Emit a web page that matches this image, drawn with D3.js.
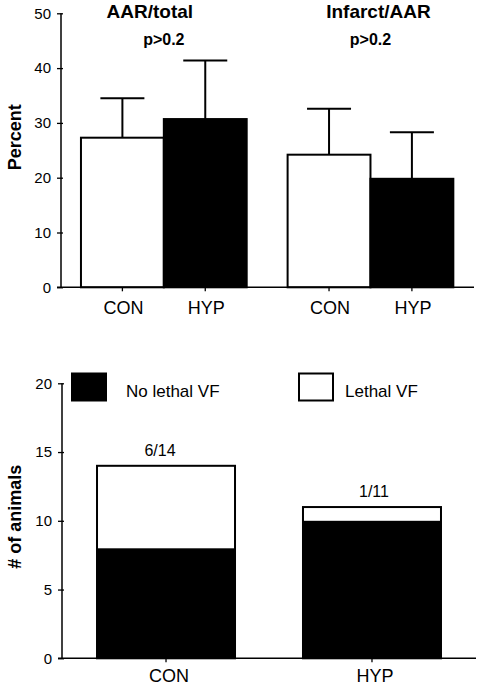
<!DOCTYPE html>
<html><head><meta charset="utf-8">
<script src="https://cdn.jsdelivr.net/npm/d3@7"></script>
<style>
html,body{margin:0;padding:0;background:#fff;}
text{font-family:Arial,"Liberation Sans",Helvetica,sans-serif;fill:#000;}
</style></head>
<body>
<svg id="chart" width="477" height="687"></svg>
<script>
// ---- Top panel data ----
const panels = ["AAR/total", "Infarct/AAR"];
const groups = ["CON", "HYP"];
const meanValues = { "AAR/total": [27.3, 30.7], "Infarct/AAR": [24.2, 19.8] };
const errValues = { "AAR/total": [34.5, 41.4], "Infarct/AAR": [32.6, 28.3] };
const pLabels = ["p>0.2", "p>0.2"];
const topTicks = [0, 10, 20, 30, 40, 50];
const groupFills = ["#fff", "#000"];

// ---- Bottom panel data ----
const vfGroups = ["CON", "HYP"];
const noLethal = [8, 10];
const lethal = [6, 1];
const vfLabels = ["6/14", "1/11"];
const bottomTicks = [0, 5, 10, 15, 20];
const legendKeys = ["No lethal VF", "Lethal VF"];
const legendFills = ["#000", "#fff"];

const svg = d3.select("#chart");

// ========== TOP ==========
const T = { left: 61, right: 474, top: 13.3, bottom: 287.3 };
const yT = d3.scaleLinear().domain([0, 50]).range([T.bottom, T.top]);
const xP = d3.scaleBand().domain(panels).range([T.left - 0.7, T.right]).paddingInner(0.198).paddingOuter(0.1);
const xG = d3.scaleBand().domain(groups).range([0, xP.bandwidth()]);

const topG = svg.append("g");

// y axis
const yAxT = topG.append("g").attr("transform", `translate(${T.left},0)`)
  .call(d3.axisLeft(yT).tickValues(topTicks).tickSize(4).tickPadding(6));
yAxT.select(".domain").attr("stroke-width", 1.5).attr("d", `M0,${T.top}V${T.bottom}`);
yAxT.selectAll(".tick line").attr("x1", 2).attr("stroke-width", 1.3);
yAxT.selectAll(".tick text").style("font-size", "15px").attr("font-family", null);

// bars
panels.forEach((p, pi) => {
  const g = topG.append("g").attr("transform", `translate(${xP(p)},0)`);
  groups.forEach((c, ci) => {
    const x0 = xG(c), w = xG.bandwidth(), cx = x0 + w / 2;
    const ty = yT(meanValues[p][ci]), ey = yT(errValues[p][ci]);
    g.append("line").attr("x1", cx).attr("x2", cx).attr("y1", ty).attr("y2", ey)
      .attr("stroke", "#000").attr("stroke-width", 2);
    g.append("line").attr("x1", cx - 22).attr("x2", cx + 22).attr("y1", ey).attr("y2", ey)
      .attr("stroke", "#000").attr("stroke-width", 2);
    g.append("rect").attr("x", x0).attr("y", ty).attr("width", w).attr("height", yT(0) - ty)
      .attr("fill", groupFills[ci]).attr("stroke", "#000").attr("stroke-width", 2);
    g.append("line").attr("x1", cx).attr("x2", cx).attr("y1", yT(0)).attr("y2", yT(0) + 4)
      .attr("stroke", "#000").attr("stroke-width", 1.3);
    g.append("text").attr("x", cx + 1).attr("y", 314).attr("text-anchor", "middle")
      .style("font-size", "18px").text(c);
  });
  g.append("text").attr("x", xP.bandwidth() / 2 + (pi === 0 ? -14 : 8)).attr("y", 18).attr("text-anchor", "middle")
    .style("font-size", "19px").style("font-weight", "bold").text(p);
  g.append("text").attr("x", xP.bandwidth() / 2).attr("y", 45).attr("text-anchor", "middle")
    .style("font-size", "16px").style("font-weight", "bold").text(pLabels[pi]);
});
topG.append("line").attr("x1", T.left - 4).attr("x2", T.right).attr("y1", yT(0)).attr("y2", yT(0))
  .attr("stroke", "#000").attr("stroke-width", 1.5);

topG.append("text").attr("transform", `translate(15,${(T.top + T.bottom) / 2 - 13}) rotate(-90)`)
  .attr("text-anchor", "middle").attr("dominant-baseline", "central")
  .style("font-size", "18px").style("font-weight", "bold").text("Percent");

// ========== BOTTOM ==========
const B = { left: 62, right: 476, top: 383.3, bottom: 658.3 };
const yB = d3.scaleLinear().domain([0, 20]).range([B.bottom, B.top]);
const xB = d3.scaleBand().domain(vfGroups).range([B.left, B.right]).paddingInner(0.33).paddingOuter(0.17);

const botG = svg.append("g");
const yAxB = botG.append("g").attr("transform", `translate(${B.left},0)`)
  .call(d3.axisLeft(yB).tickValues(bottomTicks).tickSize(4).tickPadding(6));
yAxB.select(".domain").attr("stroke-width", 1.5).attr("d", `M0,${B.top}V${B.bottom}`);
yAxB.selectAll(".tick line").attr("x1", 2).attr("stroke-width", 1.3);
yAxB.selectAll(".tick text").style("font-size", "15px").attr("font-family", null);

vfGroups.forEach((c, i) => {
  const x0 = xB(c), w = xB.bandwidth(), cx = x0 + w / 2;
  const total = noLethal[i] + lethal[i];
  botG.append("rect").attr("x", x0).attr("y", yB(total)).attr("width", w).attr("height", yB(noLethal[i]) - yB(total))
    .attr("fill", "#fff");
  botG.append("rect").attr("x", x0).attr("y", yB(noLethal[i])).attr("width", w).attr("height", yB(0) - yB(noLethal[i]))
    .attr("fill", "#000");
  botG.append("rect").attr("x", x0).attr("y", yB(total)).attr("width", w).attr("height", yB(0) - yB(total))
    .attr("fill", "none").attr("stroke", "#000").attr("stroke-width", 2);
  botG.append("text").attr("x", cx + (i === 0 ? -6 : 2)).attr("y", yB(total) - 10).attr("text-anchor", "middle")
    .style("font-size", "16px").text(vfLabels[i]);
  botG.append("line").attr("x1", cx).attr("x2", cx).attr("y1", yB(0)).attr("y2", yB(0) + 4)
    .attr("stroke", "#000").attr("stroke-width", 1.3);
  botG.append("text").attr("x", cx + 3).attr("y", 682).attr("text-anchor", "middle")
    .style("font-size", "18px").text(c);
});
botG.append("line").attr("x1", B.left - 4).attr("x2", B.right).attr("y1", yB(0)).attr("y2", yB(0))
  .attr("stroke", "#000").attr("stroke-width", 1.5);

// legend
const legX = [72, 299];
legendKeys.forEach((k, i) => {
  botG.append("rect").attr("x", legX[i]).attr("y", 373.5).attr("width", 34).attr("height", 27)
    .attr("fill", legendFills[i]).attr("stroke", "#000").attr("stroke-width", 2);
  botG.append("text").attr("x", legX[i] + 54 - (i === 1 ? 8 : 0)).attr("y", 397).style("font-size", "17px").text(k);
});

botG.append("text").attr("transform", `translate(15,${(B.top + B.bottom) / 2 - 4}) rotate(-90)`)
  .attr("text-anchor", "middle").attr("dominant-baseline", "central")
  .style("font-size", "18px").style("font-weight", "bold").text("# of animals");
</script>
</body></html>
